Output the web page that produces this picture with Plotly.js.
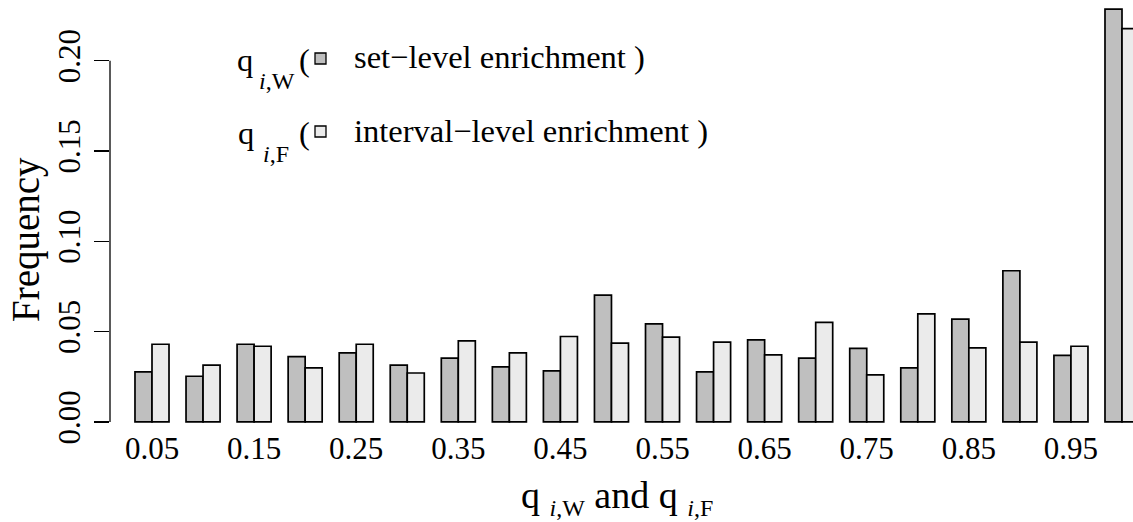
<!DOCTYPE html>
<html>
<head>
<meta charset="utf-8">
<script src="https://cdn.plot.ly/plotly-3.0.1.min.js"></script>
<style>
  html, body { margin: 0; padding: 0; background: #ffffff; }
  #chart { width: 1133px; height: 522px; }
</style>
</head>
<body>
<div id="chart"></div>
<script>
// Bin positions (upper edge of each q-value interval)
const bins = [0.05, 0.10, 0.15, 0.20, 0.25, 0.30, 0.35, 0.40, 0.45, 0.50,
              0.55, 0.60, 0.65, 0.70, 0.75, 0.80, 0.85, 0.90, 0.95, 1.00];

// Relative frequency of q_{i,W} (set-level enrichment)
const setLevel = [0.0277, 0.0253, 0.0430, 0.0362, 0.0382, 0.0314, 0.0353, 0.0305, 0.0283, 0.0702,
                  0.0543, 0.0277, 0.0454, 0.0353, 0.0407, 0.0299, 0.0569, 0.0837, 0.0368, 0.2285];

// Relative frequency of q_{i,F} (interval-level enrichment)
const intervalLevel = [0.0430, 0.0314, 0.0419, 0.0299, 0.0430, 0.0271, 0.0449, 0.0382, 0.0473, 0.0436,
                       0.0469, 0.0442, 0.0371, 0.0551, 0.0260, 0.0598, 0.0410, 0.0442, 0.0419, 0.2177];

// Labelled bins on the x axis and the y axis ticks
const xTickVals = [0.05, 0.15, 0.25, 0.35, 0.45, 0.55, 0.65, 0.75, 0.85, 0.95];
const xTickText = ["0.05", "0.15", "0.25", "0.35", "0.45", "0.55", "0.65", "0.75", "0.85", "0.95"];
const yTickVals = [0, 0.05, 0.10, 0.15, 0.20];

const DARK = "#bfbfbf";
const LIGHT = "#ebebeb";
const FONT = "'Liberation Serif', 'Times New Roman', serif";

const W = 1133, H = 522;
const M = { l: 110, r: 0, t: 0, b: 97 };
const plotW = W - M.l - M.r, plotH = H - M.t - M.b;
const px = x => (x - M.l) / plotW;          // pixel x -> paper x
const py = y => (H - M.b - y) / plotH;      // pixel y -> paper y

const barLine = { color: "#000000", width: 1.7 };

const traces = [
  { type: "bar", name: "set-level", x: bins, y: setLevel,
    marker: { color: DARK, line: barLine }, hoverinfo: "x+y" },
  { type: "bar", name: "interval-level", x: bins, y: intervalLevel,
    marker: { color: LIGHT, line: barLine }, hoverinfo: "x+y" }
];

// Legend keys: small filled squares
function keySquare(x0, y0, fill) {
  return { type: "rect", xref: "paper", yref: "paper",
           x0: px(x0), x1: px(x0 + 11), y0: py(y0 + 11), y1: py(y0),
           fillcolor: fill, line: { color: "#000000", width: 1.3 } };
}

const shapes = [
  // y axis line spans only the labelled range
  { type: "line", xref: "paper", yref: "y", x0: 0, x1: 0, y0: 0, y1: 0.20,
    line: { color: "#000000", width: 1.3 } },
  keySquare(315, 53, DARK),
  keySquare(315, 126, LIGHT)
];

const legendFont = { family: FONT, size: 32.5, color: "#000000" };
const subFont = { family: FONT, size: 24, color: "#000000" };

// helper for a left-anchored text placed at pixel coordinates
function label(text, x, y, font) {
  return { xref: "paper", yref: "paper", x: px(x), y: py(y), xanchor: "left", yanchor: "middle",
           text: text, showarrow: false, font: font };
}

const annotations = [
  // legend row 1
  label("q", 235, 60, legendFont),
  label("<i>i</i>,W", 257, 81, subFont),
  label("(", 297, 60, legendFont),
  label("set\u2212level enrichment )", 352, 57, legendFont),
  // legend row 2
  label("q", 236, 133, legendFont),
  label("<i>i</i>,F", 261, 154, subFont),
  label("(", 297, 133, legendFont),
  label("interval\u2212level enrichment )", 352, 131, legendFont),
  // axis titles
  { xref: "paper", yref: "paper", x: px(617), y: py(497), xanchor: "center", yanchor: "middle",
    text: 'q\u00a0<sub><span style="font-size:24px"><i>i</i>,W</span></sub> and q\u00a0<sub><span style="font-size:24px"><i>i</i>,F</span></sub>',
    showarrow: false, font: { family: FONT, size: 38, color: "#000000" } },
  { xref: "paper", yref: "paper", x: px(26), y: py(240), xanchor: "center", yanchor: "middle",
    text: "Frequency", textangle: -90, showarrow: false,
    font: { family: FONT, size: 39, color: "#000000" } }
];

const layout = {
  width: W, height: H,
  margin: M,
  paper_bgcolor: "#ffffff", plot_bgcolor: "#ffffff",
  showlegend: false,
  barmode: "group", bargap: 1 / 3, bargroupgap: 0,
  font: { family: FONT, color: "#000000" },
  xaxis: {
    range: [0.00887, 1.01077], showgrid: false, zeroline: false, showline: false,
    tickmode: "array", tickvals: xTickVals, ticktext: xTickText, ticks: "",
    ticklabelstandoff: 2,
    tickfont: { family: FONT, size: 31, color: "#000000" }
  },
  yaxis: {
    range: [-0.0017, 0.2336], showgrid: false, zeroline: false, showline: false,
    tickmode: "array", tickvals: yTickVals, tickformat: ".2f",
    ticks: "outside", ticklen: 15, tickwidth: 1.3, tickcolor: "#000000",
    tickangle: -90, ticklabelstandoff: 2,
    tickfont: { family: FONT, size: 31, color: "#000000" }
  },
  shapes: shapes,
  annotations: annotations
};

Plotly.newPlot("chart", traces, layout, { staticPlot: true, displayModeBar: false });
</script>
</body>
</html>
